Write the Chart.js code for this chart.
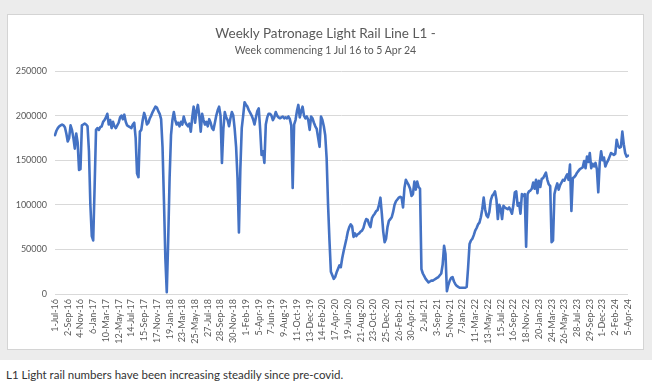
<!DOCTYPE html>
<html>
<head>
<meta charset="utf-8">
<script src="https://cdn.jsdelivr.net/npm/chart.js@4.4.1/dist/chart.umd.min.js"></script>
<style>
  html, body { margin: 0; padding: 0; background: #ffffff; }
  body { width: 652px; height: 386px; overflow: hidden; position: relative; font-family: Lato, "Open Sans", sans-serif; }
  #bg { position: absolute; left: 0; top: 0; width: 652px; height: 360px; background: #ececec; }
  #card { position: absolute; left: 7px; top: 14px; width: 637px; height: 336px; background: #ffffff; border: 1px solid #d4d4d4; box-sizing: border-box; }
  #title { position: absolute; left: 7px; width: 637px; top: 25px; text-align: center; font-size: 13.5px; line-height: 16px; color: #595959; }
  #subtitle { position: absolute; left: 7px; width: 637px; top: 44px; text-align: center; font-size: 10.5px; line-height: 12px; color: #595959; }
  #c { position: absolute; left: 7px; top: 14px; }
  #caption { position: absolute; left: 6px; top: 368px; font-size: 11.5px; line-height: 14px; color: #333333; }
</style>
</head>
<body>
<div id="bg"></div>
<div id="card"></div>
<canvas id="c" width="637" height="336"></canvas>
<div id="title">Weekly Patronage Light Rail Line L1 -</div>
<div id="subtitle">Week commencing 1 Jul 16 to 5 Apr 24</div>
<div id="caption">L1 Light rail numbers have been increasing steadily since pre-covid.</div>
<script>
// Tick labels shown on the x axis (one every 9 weeks)
const tickLabels = [
  "1-Jul-16","2-Sep-16","4-Nov-16","6-Jan-17","10-Mar-17","12-May-17","14-Jul-17","15-Sep-17",
  "17-Nov-17","19-Jan-18","23-Mar-18","25-May-18","27-Jul-18","28-Sep-18","30-Nov-18","1-Feb-19",
  "5-Apr-19","7-Jun-19","9-Aug-19","11-Oct-19","13-Dec-19","14-Feb-20","17-Apr-20","19-Jun-20",
  "21-Aug-20","23-Oct-20","25-Dec-20","26-Feb-21","30-Apr-21","2-Jul-21","3-Sep-21","5-Nov-21",
  "7-Jan-22","11-Mar-22","13-May-22","15-Jul-22","16-Sep-22","18-Nov-22","20-Jan-23","24-Mar-23",
  "26-May-23","28-Jul-23","29-Sep-23","1-Dec-23","2-Feb-24","5-Apr-24"
];
const weeksPerTick = 9;
const yTicks = [0, 50000, 100000, 150000, 200000, 250000];

// Weekly patronage (weeks from 1 Jul 16)
const weeksJul16ToJan18 = [
  178000,183000,186000,188000,189000,190000,189000,187000,180000,171000,
  175000,189000,184000,175000,163000,180000,170000,139000,140000,189000,
  190000,191000,190000,188000,160000,100000,65000,60000,120000,184000,
  186000,184000,187000,188000,193000,195000,198000,202000,190000,195000,
  186000,193000,188000,186000,189000,192000,198000,200000,196000,201000,
  193000,189000,188000,187000,186000,190000,192000,175000,135000,131000,
  182000,184000,195000,203000,198000,190000,192000,197000,200000,204000,
  207000,210000,209000,205000,202000,196000,165000,105000,40000,2000
];
const weeksJan18ToSep19 = [
  60000,130000,178000,195000,204000,195000,190000,192000,188000,193000,
  190000,199000,193000,190000,188000,191000,182000,198000,210000,192000,
  205000,212000,200000,182000,202000,195000,190000,193000,188000,196000,
  192000,186000,184000,192000,200000,206000,210000,200000,147000,185000,
  204000,198000,195000,188000,197000,204000,200000,185000,165000,130000,
  69000,140000,186000,200000,215000,212000,210000,206000,203000,200000,
  196000,190000,198000,205000,208000,185000,156000,160000,147000,190000,
  198000,202000,202000,200000,195000,198000,204000,200000,198000,197000,
  198000,199000,197000
];
const weeksSep19ToMay21 = [
  198000,197000,199000,196000,189000,119000,190000,195000,205000,212000,
  198000,205000,210000,200000,197000,199000,195000,184000,199000,197000,
  192000,188000,185000,175000,165000,199000,195000,188000,178000,152000,
  100000,60000,25000,21000,17000,19000,24000,28000,32000,30000,
  40000,48000,55000,62000,70000,75000,78000,76000,64000,68000,
  65000,67000,68000,70000,71000,74000,80000,84000,83000,78000,
  75000,85000,88000,90000,93000,94000,100000,108000,90000,70000,
  58000,62000,75000,82000,84000,86000,92000,100000,104000,106000,
  108000,109000
];
const weeksMay21ToDec22 = [
  108000,97000,119000,128000,125000,122000,118000,110000,112000,126000,
  117000,126000,120000,118000,28000,23000,20000,17000,15000,13000,
  14000,15000,15000,16000,17000,18000,19000,21000,23000,33000,
  54000,45000,3000,10000,15000,18000,19000,14000,11000,9000,
  8000,7000,7000,7000,7000,7000,8000,30000,56000,60000,
  62000,66000,71000,74000,78000,80000,86000,95000,108000,95000,
  88000,86000,92000,105000,110000,112000,115000,106000,84000,100000,
  96000,84000,99000,97000,96000,95000,97000,94000,90000,100000,
  114000
];
const weeksDec22ToApr24 = [
  115000,99000,102000,90000,112000,110000,112000,53000,112000,115000,
  116000,118000,125000,118000,128000,113000,127000,120000,129000,130000,
  133000,136000,128000,123000,121000,58000,60000,112000,119000,124000,
  117000,122000,125000,128000,127000,131000,134000,128000,145000,93000,
  130000,131000,133000,136000,138000,140000,141000,142000,149000,141000,
  154000,148000,158000,141000,146000,143000,147000,140000,114000,147000,
  160000,150000,153000,143000,147000,150000,154000,158000,157000,156000,
  157000,173000,166000,164000,165000,182000,168000,158000,154000,155000
];

const patronage = [].concat(weeksJul16ToJan18, weeksJan18ToSep19, weeksSep19ToMay21, weeksMay21ToDec22, weeksDec22ToApr24);
const categories = patronage.map((_, i) => (i % weeksPerTick === 0 ? tickLabels[i / weeksPerTick] : ""));

const txt = "#595959";
new Chart(document.getElementById("c"), {
  type: "line",
  data: {
    labels: categories,
    datasets: [{
      data: patronage,
      borderColor: "#4472C4",
      borderWidth: 2.6,
      pointRadius: 0,
      tension: 0,
      borderJoinStyle: "round",
      borderCapStyle: "round",
      fill: false
    }]
  },
  options: {
    responsive: false,
    devicePixelRatio: 1,
    animation: false,
    events: [],
    layout: { padding: { left: 0, right: 16, top: 57, bottom: 0 } },
    plugins: { legend: { display: false }, tooltip: { enabled: false }, title: { display: false } },
    scales: {
      x: {
        type: "category",
        offset: false,
        grid: { display: false, drawTicks: false },
        border: { display: false },
        ticks: {
          autoSkip: false,
          minRotation: 90,
          maxRotation: 90,
          padding: 5,
          color: txt,
          font: { family: "Lato", size: 9 },
          callback: function (v) {
            const l = this.getLabelForValue(v);
            return l === "" ? null : l;
          }
        },
        afterFit: function (s) { s.height = 56; }
      },
      y: {
        min: 0,
        max: 250000,
        afterBuildTicks: function (s) { s.ticks = yTicks.map(v => ({ value: v })); },
        grid: { color: "#d9d9d9", lineWidth: 1, drawTicks: false },
        border: { display: false },
        ticks: {
          padding: 8,
          color: txt,
          font: { family: "Lato", size: 9 },
          callback: function (v) { return String(v); }
        },
        afterFit: function (s) { s.width = 48; }
      }
    }
  }
});
</script>
</body>
</html>
